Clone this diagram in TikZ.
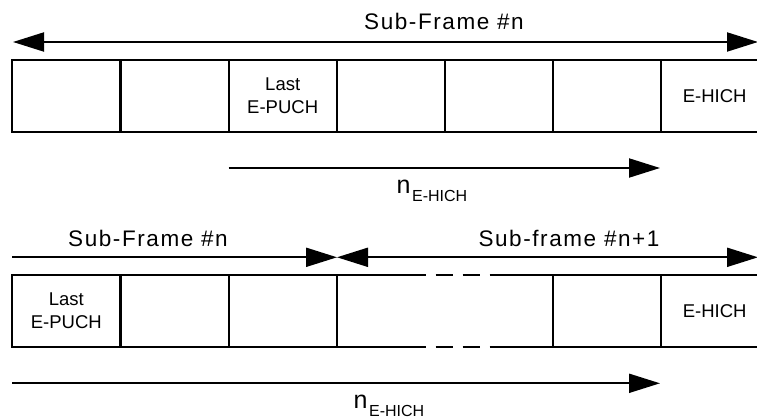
\documentclass[tikz,border=0pt]{standalone}
\usepackage{fontspec}
\setmainfont{Liberation Sans}
\newfontfamily\widefont[LetterSpace=7]{Liberation Sans}
\usetikzlibrary{arrows.meta}
\begin{document}
\begin{tikzpicture}[x=1pt,y=-1pt,
  cell/.style={draw, line width=2pt, minimum width=108pt, minimum height=72pt,
    inner sep=0pt, outer sep=0pt, align=center,
    font=\fontsize{18.5}{22.7}\selectfont},
  dimarrow/.style={line width=2pt, -{Triangle[length=31pt,width=19pt]}},
  dimboth/.style={line width=2pt,
    {Triangle[length=31pt,width=19pt]}-{Triangle[length=31pt,width=19pt]}},
  title/.style={font=\widefont\fontsize{22.5}{27}\selectfont, anchor=base, inner sep=0pt},
  nlabel/.style={anchor=base west, inner sep=0pt},
  gapline/.style={line width=2pt},
  gapdash/.style={line width=2pt, dash pattern=on 17pt off 10pt},
  ]
\useasboundingbox (0,0) rectangle (757,419);

% ---------- top: Sub-Frame #n ----------
\coordinate (t1) at (13,42);
\coordinate (t2) at (758,42);
\draw[dimboth] (t1) -- (t2);
\node[title] (st) at (444,30) {Sub-Frame \#n};

\node[cell] (a1) at (66.35,96) {};
\node[cell] (a2) at (174.7,96) {};
\node[cell] (a3) at (282.7,96) {Last\\E-PUCH};
\node[cell] (a4) at (390.7,96) {};
\node[cell] (a5) at (498.7,96) {};
\node[cell] (a6) at (606.7,96) {};
\node[cell] (a7) at (714.7,96) {E-HICH};

\coordinate (m1) at (228.7,168);
\coordinate (m2) at (660,168);
\draw[dimarrow] (m1) -- (m2);
\node[nlabel] (n1) at (396.5,193.3)
  {\fontsize{25}{25}\selectfont n\kern1.5pt\raisebox{-8.3pt}{\fontsize{16}{16}\selectfont E-HICH}};

% ---------- bottom: Sub-Frame #n / #n+1 ----------
\node[title] (sb1) at (148,247) {Sub-Frame \#n};
\node[title] (sb2) at (569,247) {Sub-frame \#n+1};
\coordinate (u1) at (12,257.3);
\coordinate (u2) at (337,257.3);
\coordinate (u3) at (758,257.3);
\draw[dimarrow] (u1) -- (u2);
\draw[dimboth] (u2) -- (u3);

\node[cell] (b1) at (66.35,311) {Last\\E-PUCH};
\node[cell] (b2) at (174.7,311) {};
\node[cell] (b3) at (282.7,311) {};
\node[cell] (b5) at (606.7,311) {};
\node[cell] (b6) at (714.7,311) {E-HICH};

\coordinate (gt1) at (408.7,275);
\coordinate (gt2) at (498.7,275);
\coordinate (gb1) at (408.7,347);
\coordinate (gb2) at (498.7,347);
\draw[gapline] (b3.north east) -- (gt1);
\draw[gapdash] (gt1) -- (gt2);
\draw[gapline] (gt2) -- (b5.north west);
\draw[gapline] (b3.south east) -- (gb1);
\draw[gapdash] (gb1) -- (gb2);
\draw[gapline] (gb2) -- (b5.south west);

\coordinate (w1) at (12,383.3);
\coordinate (w2) at (660,383.3);
\draw[dimarrow] (w1) -- (w2);
\node[nlabel] (n2) at (353.5,408.5)
  {\fontsize{25}{25}\selectfont n\kern1.5pt\raisebox{-8.3pt}{\fontsize{16}{16}\selectfont E-HICH}};
\end{tikzpicture}
\end{document}
